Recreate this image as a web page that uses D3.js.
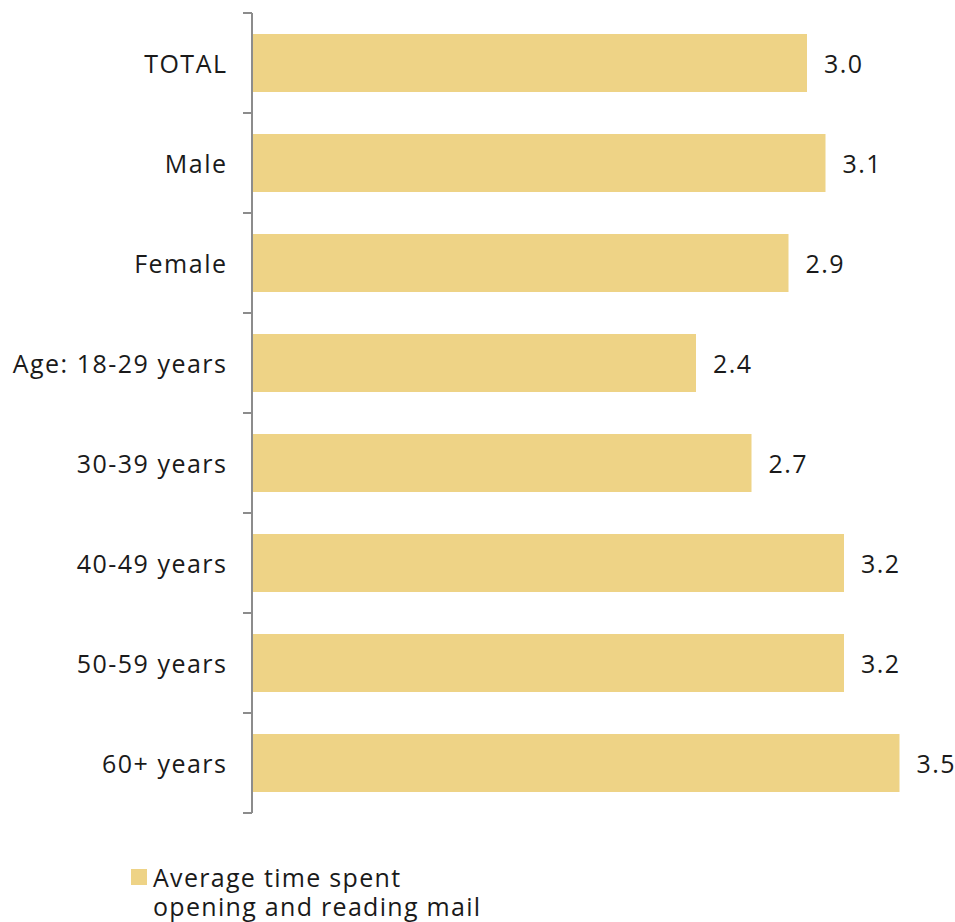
<!DOCTYPE html>
<html><head><meta charset="utf-8">
<script src="https://cdn.jsdelivr.net/npm/d3@7"></script>
<style>body{margin:0;background:#fff;} svg{display:block;}</style>
</head><body>
<svg id="c" width="955" height="922"></svg>
<script>
const categories = ["TOTAL","Male","Female","Age: 18-29 years","30-39 years","40-49 years","50-59 years","60+ years"];
const values = [3.0,3.1,2.9,2.4,2.7,3.2,3.2,3.5];
const valueLabels = ["3.0","3.1","2.9","2.4","2.7","3.2","3.2","3.5"];
const legendLines = ["Average time spent","opening and reading mail"];

(function(){
const svg = d3.select("#c");
const font = "'Open Sans', 'Noto Sans', sans-serif";
const ls = "1.5px";
const fs = 25;
const mLeft = 252, mTop = 13, mBottom = 813;
const x = d3.scaleLinear().domain([0, 3.5]).range([mLeft, mLeft + 647.5]);
const y = d3.scaleBand().domain(categories).range([mTop, mBottom]).paddingInner(0.42).paddingOuter(0.21);

svg.selectAll("rect.bar").data(categories).join("rect").attr("class","bar")
  .attr("x", x(0)).attr("y", d => y(d)).attr("height", y.bandwidth())
  .attr("width", (d,i) => x(values[i]) - x(0)).attr("fill", "#EED386");

const axisG = svg.append("g");
axisG.append("line").attr("x1", mLeft).attr("x2", mLeft).attr("y1", mTop).attr("y2", mBottom)
  .attr("stroke", "#8c8c8c").attr("stroke-width", 2);
const step = (mBottom - mTop) / categories.length;
const tickYs = d3.range(categories.length + 1).map(i => mTop + i * step);
axisG.selectAll("line.t").data(tickYs).join("line").attr("class","t")
  .attr("x1", mLeft - 9).attr("x2", mLeft).attr("y1", d => d).attr("y2", d => d)
  .attr("stroke", "#8c8c8c").attr("stroke-width", 2);

svg.selectAll("text.cat").data(categories).join("text").attr("class","cat")
  .attr("x", 227.5).attr("y", d => y(d) + y.bandwidth()/2).attr("dy", "0.4em")
  .attr("text-anchor", "end").attr("font-family", font).attr("font-size", fs)
  .attr("letter-spacing", ls).attr("fill", "#1a1a1a").text(d => d);

svg.selectAll("text.val").data(categories).join("text").attr("class","val")
  .attr("x", (d,i) => x(values[i]) + 17).attr("y", d => y(d) + y.bandwidth()/2).attr("dy", "0.4em")
  .attr("font-family", font).attr("font-size", fs).attr("letter-spacing", ls).attr("fill", "#1a1a1a")
  .text((d,i) => valueLabels[i]);

svg.append("rect").attr("x", 131).attr("y", 869).attr("width", 16).attr("height", 16).attr("fill", "#EED386");
const leg = svg.append("text").attr("font-family", font).attr("font-size", fs)
  .attr("letter-spacing", "1.3px").attr("fill", "#1a1a1a");
leg.selectAll("tspan").data(legendLines).join("tspan")
  .attr("x", 153).attr("y", (d,i) => 887 + i * 29).text(d => d);
})();
</script>
</body></html>
